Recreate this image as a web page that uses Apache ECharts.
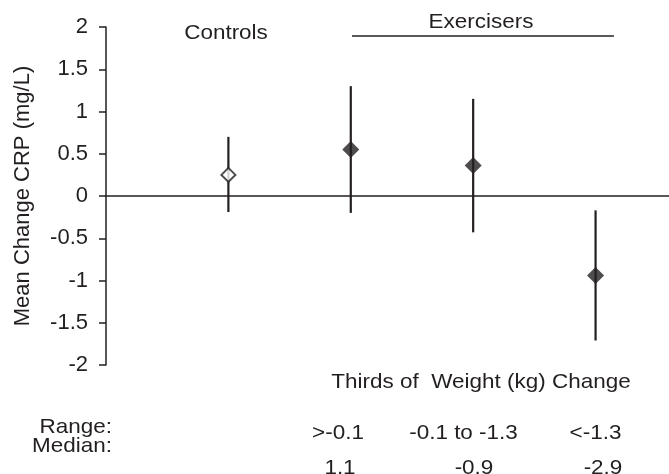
<!DOCTYPE html>
<html>
<head>
<meta charset="utf-8">
<script src="https://cdn.jsdelivr.net/npm/echarts@6/dist/echarts.min.js"></script>
<style>
  html, body { margin: 0; padding: 0; background: #fff; }
  #chart { width: 669px; height: 474px; }
</style>
</head>
<body>
<div id="chart"></div>
<script>
// Mean change in CRP (mg/L) with 95% CI, controls vs. exercisers split into thirds of weight change
const controlPos = [1];
const controlMean = [0.25];
const controlLow = [-0.19];
const controlHigh = [0.70];

const exerciserPos = [2, 3, 4];
const exerciserMean = [0.55, 0.36, -0.94];
const exerciserLow = [-0.20, -0.43, -1.71];
const exerciserHigh = [1.30, 1.15, -0.17];

const rangeLabels = ['>-0.1', '-0.1 to -1.3', '<-1.3'];
const medianLabels = ['1.1', '-0.9', '-2.9'];

const INK = '#231f20';
const FONT = '"Liberation Sans", Arial, Helvetica, sans-serif';
const FS = 21;
const AXIS_FS = 22;

const errorBars = controlPos.map((x, i) => [x, controlLow[i], controlHigh[i]])
  .concat(exerciserPos.map((x, i) => [x, exerciserLow[i], exerciserHigh[i]]));

// Annotation text, slightly widened to the proportions of the printed figure
function text(str, x, y, align) {
  return {
    type: 'text', x: x, y: y, scaleX: 1.07, silent: true,
    style: {
      text: str, x: 0, y: 0, fill: INK, font: FS + 'px ' + FONT,
      textAlign: align || 'center', textVerticalAlign: 'middle'
    }
  };
}

const chart = echarts.init(document.getElementById('chart'));
chart.setOption({
  animation: false,
  backgroundColor: '#fff',
  textStyle: { fontFamily: FONT, color: INK },
  grid: { left: 106, right: 0, top: 27, bottom: 109, containLabel: false },
  xAxis: {
    type: 'value', min: 0, max: 4.6,
    axisLine: { show: true, onZero: true, lineStyle: { color: INK, width: 1.5 } },
    axisTick: { show: false },
    axisLabel: { show: false },
    splitLine: { show: false }
  },
  yAxis: {
    type: 'value', min: -2, max: 2, interval: 0.5,
    name: 'Mean Change CRP (mg/L)',
    nameLocation: 'middle', nameGap: 72,
    nameTextStyle: { fontSize: AXIS_FS, color: INK, fontFamily: FONT },
    axisLine: { show: true, lineStyle: { color: INK, width: 1.5 } },
    axisTick: { show: true, inside: false, length: 7, lineStyle: { color: INK, width: 1.5 } },
    axisLabel: { fontSize: AXIS_FS, color: INK, margin: 18, fontFamily: FONT },
    splitLine: { show: false }
  },
  series: [
    {
      name: 'CI',
      type: 'custom',
      data: errorBars,
      encode: { x: 0, y: [1, 2] },
      z: 2,
      renderItem: function (params, api) {
        const a = api.coord([api.value(0), api.value(1)]);
        const b = api.coord([api.value(0), api.value(2)]);
        return {
          type: 'line',
          shape: { x1: a[0], y1: a[1], x2: b[0], y2: b[1] },
          style: { stroke: INK, lineWidth: 2.2 }
        };
      }
    },
    {
      name: 'Controls',
      type: 'scatter',
      z: 3,
      symbol: 'diamond',
      symbolSize: 14,
      itemStyle: { color: '#fff', borderColor: INK, borderWidth: 2 },
      data: controlPos.map((x, i) => [x, controlMean[i]])
    },
    {
      name: 'Exercisers',
      type: 'scatter',
      z: 3,
      symbol: 'diamond',
      symbolSize: 17,
      itemStyle: { color: INK },
      data: exerciserPos.map((x, i) => [x, exerciserMean[i]]),
      markLine: {
        silent: true,
        symbol: 'none',
        label: { show: false },
        lineStyle: { color: INK, width: 1.5, type: 'solid' },
        data: [[{ coord: [2.01, 1.893] }, { coord: [4.15, 1.893] }]]
      }
    }
  ],
  graphic: [
    text('Controls', 226, 33),
    text('Exercisers', 481, 22.5),
    text('Thirds of  Weight (kg) Change', 481, 382.5),
    text('Range:', 112, 427, 'right'),
    text('Median:', 112, 446, 'right'),
    text(rangeLabels[0], 338, 433),
    text(rangeLabels[1], 463.5, 433),
    text(rangeLabels[2], 595.5, 433),
    text(medianLabels[0], 340, 468),
    text(medianLabels[1], 474, 468),
    text(medianLabels[2], 603, 468)
  ]
});
</script>
</body>
</html>
